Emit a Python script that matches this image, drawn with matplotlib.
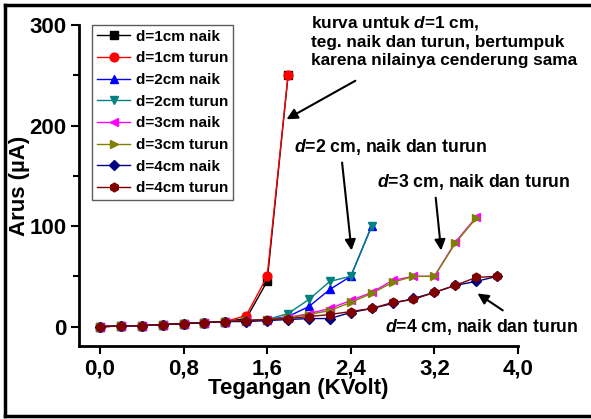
import matplotlib.pyplot as plt
from matplotlib.lines import Line2D
from matplotlib.ticker import MultipleLocator

plt.rcParams['font.family'] = ['Liberation Sans', 'DejaVu Sans']
plt.rcParams['font.weight'] = 'bold'
plt.rcParams['mathtext.fontset'] = 'custom'
plt.rcParams['mathtext.it'] = 'Liberation Sans:italic:bold'
plt.rcParams['mathtext.rm'] = 'Liberation Sans:bold'

# tegangan (kV) untuk tiap jarak elektroda
v1 = [0.0, 0.2, 0.4, 0.6, 0.8, 1.0, 1.2, 1.4, 1.6, 1.8]
v2 = [0.0, 0.2, 0.4, 0.6, 0.8, 1.0, 1.2, 1.4, 1.6, 1.8, 2.0, 2.2, 2.4, 2.6]
v3 = [0.0, 0.2, 0.4, 0.6, 0.8, 1.0, 1.2, 1.4, 1.6, 1.8, 2.0, 2.2, 2.4, 2.6,
      2.8, 3.0, 3.2, 3.4, 3.6]
v4 = [0.0, 0.2, 0.4, 0.6, 0.8, 1.0, 1.2, 1.4, 1.6, 1.8, 2.0, 2.2, 2.4, 2.6,
      2.8, 3.0, 3.2, 3.4, 3.6, 3.8]

# arus (uA)
i1_naik = [0, 0.5, 1, 2, 3, 4, 5, 8, 45, 250]
i1_turun = [0, 0.5, 1, 2, 3, 4, 5, 11, 50, 250]
i2_naik = [0, 0.5, 1, 2, 3, 4, 5, 6, 7, 10, 20, 37, 50, 100]
i2_turun = [0, 0.5, 1, 2, 3, 4, 5, 6, 7, 13, 27, 45, 50, 100]
i3_naik = [0, 0.5, 1, 2, 3, 4, 5, 6, 7, 9, 13, 18, 26, 34, 46, 50, 50, 84, 109]
i3_turun = [0, 0.5, 1, 2, 3, 4, 5, 6, 7, 9, 12, 16, 24, 33, 44, 50, 50, 83, 108]
i4_naik = [0, 0.5, 1, 2, 3, 4, 5, 5, 6, 7, 8, 8, 14, 18, 23, 28, 34, 41, 45, 50]
i4_turun = [0, 0.5, 1, 2, 3, 4, 5, 6, 7, 8, 10, 12, 15, 18, 24, 27, 34, 41, 49, 50]

xticks = [0.0, 0.8, 1.6, 2.4, 3.2, 4.0]
xtick_labels = ['0,0', '0,8', '1,6', '2,4', '3,2', '4,0']
yticks = [0, 100, 200, 300]

series = [
    (v1, i1_naik, 'd=1cm naik', 'black', 's'),
    (v1, i1_turun, 'd=1cm turun', 'red', 'o'),
    (v2, i2_naik, 'd=2cm naik', 'blue', '^'),
    (v2, i2_turun, 'd=2cm turun', '#008080', 'v'),
    (v3, i3_naik, 'd=3cm naik', 'magenta', '<'),
    (v3, i3_turun, 'd=3cm turun', '#808000', '>'),
    (v4, i4_naik, 'd=4cm naik', '#000080', 'D'),
    (v4, i4_turun, 'd=4cm turun', '#800000', 'h'),
]

fig = plt.figure(figsize=(5.91, 4.19), dpi=100)
ax = fig.add_axes([0.1337, 0.175, 0.7428, 0.765])

for x, y, lab, c, m in series:
    ms = 5 if m == 'D' else 6.3
    ax.plot(x, y, color=c, marker=m, ms=ms, lw=1, label=lab)

ax.set_xlim(-0.2, 4.0)
ax.set_ylim(-19, 300)
ax.set_xticks(xticks)
ax.set_xticklabels(xtick_labels)
ax.set_yticks(yticks)
ax.yaxis.set_minor_locator(MultipleLocator(50))
for s in ['top', 'right']:
    ax.spines[s].set_visible(False)
for s in ['left', 'bottom']:
    ax.spines[s].set_linewidth(2)
ax.tick_params(which='major', length=6, width=1.5, labelsize=16, pad=3)
ax.tick_params(which='minor', length=4, width=1.5)
for t in ax.get_xticklabels() + ax.get_yticklabels():
    t.set_fontweight('bold')

ax.set_xlabel('Tegangan (KVolt)', fontsize=16, fontweight='bold')
ax.set_ylabel('Arus (\u00b5A)', fontsize=16, fontweight='bold')
ax.xaxis.set_label_coords(0.5, -0.10)
ax.yaxis.set_label_coords(-0.112, 0.5)

leg = ax.legend(loc='upper left', bbox_to_anchor=(0.03, 1.0), borderaxespad=0,
                fancybox=False, edgecolor='#333333', fontsize=11,
                handlelength=2.2, labelspacing=0.5, borderpad=0.3,
                handletextpad=0.4)
leg.get_frame().set_linewidth(1)
for t in leg.get_texts():
    t.set_fontweight('bold')

arrow = dict(arrowstyle='-|>', color='black', lw=1.5, mutation_scale=16)
ax.text(2.02, 311, 'kurva untuk $d$=1 cm,\nteg. naik dan turun, bertumpuk\nkarena nilainya cenderung sama',
        fontsize=12.4, fontweight='bold', va='top', ha='left', linespacing=1.25)
ax.annotate('', xy=(1.762, 205), xytext=(2.467, 246), arrowprops=arrow,
            annotation_clip=False)

ax.text(1.857, 178.4, '$d$=2 cm, naik dan turun', fontsize=12.7,
        fontweight='bold', va='center', ha='left')
ax.annotate('', xy=(2.41, 73), xytext=(2.314, 166), arrowprops=arrow)

ax.text(2.648, 143.6, '$d$=3 cm, naik dan turun', fontsize=12.7,
        fontweight='bold', va='center', ha='left')
ax.annotate('', xy=(3.267, 73), xytext=(3.21, 131), arrowprops=arrow)

ax.text(2.73, -0.3, '$d$=4 cm, naik dan turun', fontsize=12.7,
        fontweight='bold', va='center', ha='left')
ax.annotate('', xy=(3.59, 34.5), xytext=(3.876, 14.6), arrowprops=arrow)

# bingkai luar gambar
W, H = 591.0, 419.0
fig.add_artist(Line2D([5 / W, 5 / W], [1 - 416 / H, 1 - 5 / H], color='black', lw=2.5))
fig.add_artist(Line2D([5 / W, 589 / W], [1 - 5 / H, 1 - 5 / H], color='black', lw=2.5))
fig.add_artist(Line2D([5 / W, 591 / W], [1 - 416 / H, 1 - 416 / H], color='black', lw=2.5))

fig.savefig('out.png', dpi=100)
